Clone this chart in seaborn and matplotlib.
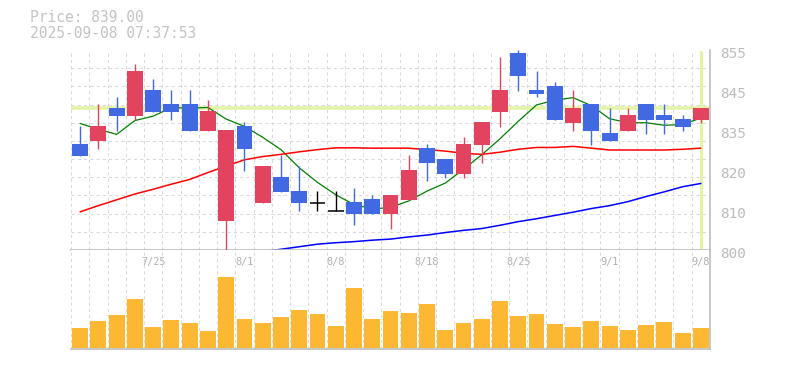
import numpy as np
import pandas as pd
import matplotlib
matplotlib.use("Agg")
import matplotlib.pyplot as plt
import matplotlib.transforms as mtrans
import seaborn as sns

# daily candles
dates = ["7/18", "7/22", "7/23", "7/24", "7/25", "7/28", "7/29", "7/30", "7/31", "8/1",
         "8/4", "8/5", "8/6", "8/7", "8/8", "8/12", "8/13", "8/14", "8/15", "8/18",
         "8/19", "8/20", "8/21", "8/22", "8/25", "8/26", "8/27", "8/28", "8/29", "9/1",
         "9/2", "9/3", "9/4", "9/5", "9/8"]
opens = [829.2, 830.1, 839.0, 836.9, 844.0, 840.2, 840.2, 832.8, 808.0, 834.1,
         813.0, 820.1, 816.2, 813.0, 810.8, 813.2, 814.0, 809.9, 813.8, 828.1,
         825.0, 820.9, 829.0, 838.0, 854.3, 844.0, 845.1, 835.0, 840.2, 832.2,
         832.8, 840.2, 837.1, 836.0, 835.8]
highs = [834.1, 840.2, 842.2, 851.2, 847.0, 844.0, 844.0, 841.3, 833.0, 835.3,
         823.1, 826.1, 823.1, 816.2, 816.2, 817.1, 815.1, 815.1, 826.1, 829.2,
         825.0, 831.1, 835.2, 853.2, 855.0, 849.2, 846.2, 844.0, 840.2, 839.1,
         839.1, 840.2, 840.2, 837.1, 839.1]
lows = [825.9, 827.9, 832.8, 835.8, 838.0, 835.8, 832.8, 832.8, 799.0, 821.8,
        813.0, 816.0, 810.8, 810.8, 810.8, 806.9, 809.9, 805.8, 813.8, 819.0,
        819.8, 819.8, 824.0, 833.9, 843.8, 842.0, 835.8, 832.8, 829.0, 830.1,
        832.8, 832.0, 832.0, 832.8, 835.0]
closes = [825.9, 834.1, 836.9, 849.2, 838.0, 838.0, 832.8, 838.2, 833.0, 827.9,
          823.1, 816.0, 813.0, 813.0, 810.8, 809.9, 809.9, 815.1, 822.0, 823.9,
          820.9, 829.2, 835.2, 844.0, 847.9, 843.0, 835.8, 839.0, 832.8, 830.1,
          837.1, 835.8, 835.8, 833.9, 839.0]

# moving averages (5 / 25 / 75 day)
ma5 = [834.8, 833.2, 831.8, 835.6, 836.8, 839.2, 839.0, 839.2, 836.0, 834.0,
       831.0, 827.6, 822.6, 818.6, 815.2, 812.5, 811.3, 811.7, 813.5, 816.2,
       818.4, 822.2, 826.2, 830.6, 835.4, 839.9, 841.2, 841.9, 839.7, 836.1,
       835.0, 835.0, 834.3, 834.5, 836.3]
ma25 = [810.5, 812.2, 813.8, 815.4, 816.7, 818.1, 819.4, 821.3, 823.1, 824.8,
        825.7, 826.3, 827.0, 827.6, 828.1, 828.1, 828.0, 828.0, 828.0, 827.6,
        827.2, 826.6, 826.3, 826.9, 827.7, 828.2, 828.2, 828.5, 828.0, 827.5,
        827.5, 827.5, 827.5, 827.7, 828.0]
ma75 = [None] * 10 + [
        799.6, 800.2, 800.9, 801.6, 802.0, 802.3, 802.7, 803.0, 803.6, 804.1,
        804.8, 805.4, 805.9, 806.8, 807.8, 808.6, 809.5, 810.4, 811.4, 812.2,
        813.3, 814.7, 816.0, 817.4, 818.3]

volume = [2000, 2730, 3300, 4930, 2130, 2830, 2530, 1730, 7130, 2930,
          2530, 3130, 3830, 3430, 2230, 6030, 2930, 3700, 3530, 4430,
          1830, 2530, 2930, 4730, 3230, 3430, 2430, 2130, 2730, 2230,
          1830, 2330, 2630, 1530, 2030]

price_ticks = [800, 811, 822, 833, 844, 855]
price_labels = ["800", "810", "820", "835", "845", "855"]
last_price = 839.00
stamp = "2025-09-08 07:37:53"

UP = "#e2445f"
DOWN = "#4169e1"
VOL = "#fdb833"
HILITE = "#e4f4a6"
GRID = "#d9d9d9"
SPINE = "#bdbdbd"
TXT = "#bcbcbc"

sns.set_theme(style="white")
plt.rcParams["font.family"] = ["DejaVu Sans Mono", "DejaVu Sans"]

df = pd.DataFrame({"date": dates, "open": opens, "high": highs, "low": lows,
                   "close": closes, "ma5": ma5, "ma25": ma25, "ma75": ma75,
                   "volume": volume})
df["pos"] = np.arange(len(df))

fig = plt.figure(figsize=(7.85, 3.70), dpi=100)
ax = fig.add_axes([71 / 785, 120 / 370, 639 / 785, 200 / 370])
axv = fig.add_axes([71 / 785, 21 / 370, 639 / 785, 99 / 370])

# grid
for a in (ax, axv):
    a.set_xticks(np.arange(-0.5, len(df), 1), minor=True)
    a.grid(False)
    a.grid(which="minor", axis="x", color=GRID, lw=0.75, ls=(0, (3, 3)), zorder=0)
    for side in ("left", "top"):
        a.spines[side].set_visible(False)
    for side in ("right", "bottom"):
        a.spines[side].set_color(SPINE)
        a.spines[side].set_linewidth(1.2)
ax.set_yticks(np.arange(800, 856, 5), minor=True)
ax.grid(which="minor", axis="y", color=GRID, lw=0.75, ls=(0, (3, 3)), zorder=0)

# current price highlight
ax.axhline(last_price, color=HILITE, lw=2.6, zorder=1)
ax.axvline(df["pos"].iloc[-1], ymax=0.99, color=HILITE, lw=2.3, zorder=1)

# moving averages
sns.lineplot(data=df, x="pos", y="ma5", color="#008000", lw=0.9, ax=ax, zorder=2)
sns.lineplot(data=df, x="pos", y="ma25", color="#ff0000", lw=1.1, ax=ax, zorder=2)
sns.lineplot(data=df.dropna(subset=["ma75"]), x="pos", y="ma75", color="#0000ff",
             lw=1.1, ax=ax, zorder=2)

# candles
w = 0.87
for i, r in df.iterrows():
    if r["close"] > r["open"]:
        col = UP
    elif r["close"] < r["open"]:
        col = DOWN
    else:
        col = "black"
    ax.vlines(r["pos"], r["low"], r["high"], color=col, lw=1.0, zorder=3)
    if col == "black":
        ax.hlines(r["close"], r["pos"] - w / 2, r["pos"] + w / 2,
                  color=col, lw=1.1, zorder=4)
    else:
        ax.bar(r["pos"], abs(r["close"] - r["open"]), bottom=min(r["open"], r["close"]),
               width=w, color=col, linewidth=0, zorder=4)

ax.set_xlim(-0.5, len(df) - 0.5)
ax.set_ylim(800, 855)
ax.set_xticks([])
ax.set_xlabel("")
ax.set_ylabel("")
ax.yaxis.tick_right()
ax.set_yticks(price_ticks, price_labels)
ax.tick_params(axis="y", which="both", length=0, pad=7, labelsize=10.4, labelcolor=TXT)
off = mtrans.ScaledTranslation(0, -2.7 / 100, fig.dpi_scale_trans)
for lab in ax.get_yticklabels():
    lab.set_transform(lab.get_transform() + off)

# volume
sns.barplot(data=df, x="date", y="volume", color=VOL, saturation=1, width=w,
            linewidth=0, ax=axv, zorder=2)
axv.set_xlim(-0.5, len(df) - 0.5)
axv.set_ylim(-100, 9800)
axv.set_yticks([])
axv.set_xlabel("")
axv.set_ylabel("")
label_pos = df["pos"].iloc[4::5]
axv.set_xticks(label_pos, df["date"].iloc[4::5])
axv.set_xticks(np.arange(-0.5, len(df), 1), minor=True)
axv.tick_params(axis="x", which="both", length=0, top=False, bottom=False,
                labeltop=True, labelbottom=False, pad=-12.5, labelsize=7.4,
                labelcolor="#b0b0b0")

fig.text(30 / 785, 1 - 18 / 370, f"Price: {last_price:.2f}", color="#c4c4c4",
         fontsize=10.5, va="center", ha="left")
fig.text(30 / 785, 1 - 33 / 370, stamp, color="#c4c4c4",
         fontsize=10.5, va="center", ha="left")

fig.savefig("out.png", dpi=100, facecolor="white")
